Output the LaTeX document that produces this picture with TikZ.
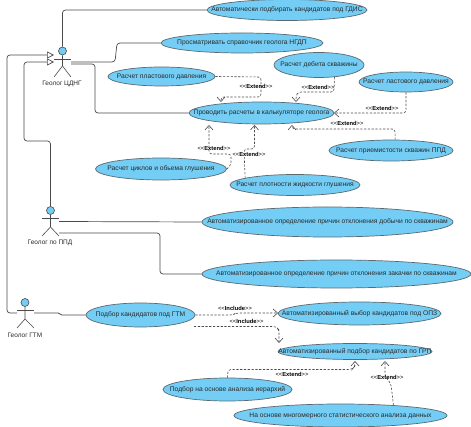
\documentclass[tikz,border=0pt]{standalone}
\usepackage{fontspec}
\setmainfont{Liberation Sans}
\usetikzlibrary{arrows.meta,shapes.geometric}
\definecolor{ucfill}{HTML}{73CDF5}
\definecolor{ucline}{HTML}{5A6A70}
\definecolor{wire}{HTML}{4A4A4A}
\definecolor{txt}{HTML}{2A2A2A}
\newcommand{\stereo}[1]{<{}<\textbf{#1}>{}>}
\newcommand{\ut}[1]{\makebox[0pt][c]{#1}}
\tikzset{
  uc/.style={ellipse,draw=ucline,fill=ucfill,line width=0.7pt,inner sep=0pt,font=\fontsize{6.7}{7}\selectfont,text=txt},
  lbl/.style={font=\fontsize{6.5}{7}\selectfont,text=txt,inner sep=0pt},
  tag/.style={font=\fontsize{5.8}{6}\selectfont,text=black,inner sep=0pt},
  assoc/.style={draw=wire,line width=0.7pt,rounded corners=3pt},
  gen/.style={draw=wire,line width=0.7pt,rounded corners=3pt,-{Triangle[open,length=7pt,width=7pt,fill=white]}},
  dep/.style={draw=wire,line width=0.6pt,rounded corners=3pt,dash pattern=on 2.2pt off 1.6pt,-{Straight Barb[length=4.5pt,width=8pt,line width=0.6pt]}},
  head/.style={circle,draw=wire,fill=ucfill,line width=0.6pt,minimum size=8pt,inner sep=0pt},
  limb/.style={draw=wire,line width=0.6pt},
}
\begin{document}
\begin{tikzpicture}[x=1pt,y=-1pt]
\useasboundingbox (0,0) rectangle (471,427);
\fill[white] (0,0) rectangle (471,427);
% use cases
\node[uc,minimum width=160pt,minimum height=21pt] (u1) at (287,10) {\ut{Автоматически подбирать кандидатов под ГДИС}};
\node[uc,minimum width=162pt,minimum height=20pt] (u2) at (242,43) {\ut{Просматривать справочник геолога НГДП}};
\node[uc,minimum width=107pt,minimum height=19pt] (u3) at (161.5,76.5) {\ut{Расчет пластового давления}};
\node[uc,minimum width=90pt,minimum height=25pt] (u4) at (319,65) {\ut{Расчет дебита скважины}};
\node[uc,minimum width=94pt,minimum height=20pt] (u5) at (406,82) {\ut{Расчет ластового давления}};
\node[uc,minimum width=145pt,minimum height=22pt] (u6) at (261.5,113) {\ut{Проводить расчеты в калькуляторе геолога}};
\node[uc,minimum width=124pt,minimum height=21pt] (u7) at (391,150.5) {\ut{Расчет приемистости скважин ППД}};
\node[uc,minimum width=131pt,minimum height=22pt] (u8) at (161,169) {\ut{Расчет циклов и обьема глушения}};
\node[uc,minimum width=130pt,minimum height=21pt] (u9) at (295,185) {\ut{Расчет плотности жидкости глушения}};
\node[uc,minimum width=251pt,minimum height=30pt] (u10) at (327.5,222) {\ut{Автоматизированное определение причин отклонения добычи по скважинам}};
\node[uc,minimum width=269pt,minimum height=28pt] (u11) at (336.5,274) {\ut{Автоматизированное определение причин отклонения закачки по скважинам}};
\node[uc,minimum width=109pt,minimum height=24pt] (u12) at (140.5,315) {\ut{Подбор кандидатов под ГТМ}};
\node[uc,minimum width=163pt,minimum height=23pt] (u13) at (359.5,313.5) {\ut{Автоматизированный выбор кандидатов под ОПЗ}};
\node[uc,minimum width=154pt,minimum height=16pt] (u14) at (355,351.5) {\ut{Автоматизированный подбор кандидатов по ГРП}};
\node[uc,minimum width=129pt,minimum height=23pt] (u15) at (227.5,389.5) {\ut{Подбор на основе анализа иерархий}};
\node[uc,minimum width=213pt,minimum height=23pt] (u16) at (340.5,415.5) {\ut{На основе многомерного статистического анализа данных}};
% actors
\node[head] (h1) at (62.5,51) {};
\draw[limb] (h1.south) -- (62.5,66) coordinate (b1) -- (54,77);
\draw[limb] (b1) -- (71,77);
\draw[limb] (54,59) -- (71,59);
\node[lbl] (n1) at (62,84) {Геолог ЦДНГ};
\node[head] (h2) at (50.5,210.5) {};
\draw[limb] (h2.south) -- (50.5,227) coordinate (b2) -- (42,236);
\draw[limb] (b2) -- (59,236);
\draw[limb] (42,218.5) -- (59,218.5);
\node[lbl] (n2) at (50,243) {Геолог по ППД};
\node[head] (h3) at (25,302.5) {};
\draw[limb] (h3.south) -- (25,319) coordinate (b3) -- (17,328);
\draw[limb] (b3) -- (34,328);
\draw[limb] (17,310) -- (34,310);
\node[lbl] (n3) at (25,335.5) {Геолог ГТМ};
% anchors on the actors
\coordinate (g1) at (54,55);
\coordinate (g2) at (54,62);
\coordinate (a1r) at (71,62);
\coordinate (a1s) at (71,64);
\coordinate (a2u) at (59,221.5);
\coordinate (a2d) at (59,233);
\coordinate (a3r) at (34,313);
\coordinate (a3l) at (17,313);
% generalisations
\draw[gen] (a3l) -- (7,313) -- (7,55) -- (g1);
\draw[gen] (h2.north) -- (50.5,141) -- (24,141) -- (24,62) -- (g2);
% associations
\draw[assoc] (h1.north) -- (62.5,10) -- (u1.west);
\draw[assoc] (a1r) -- (115,62) -- (117,43) -- (u2.west);
\draw[assoc] (a1s) -- (95,64) -- (95,113) -- (u6.west);
\draw[assoc] (a2u) -- (u10.west);
\draw[assoc] (a2d) -- (160,233) -- (160,274) -- (u11.west);
\draw[draw=wire,line width=0.7pt] (a3r) -- (58,313) -- (62,315) -- (u12.west);
% dependency end points
\coordinate (t1) at (221,102);
\coordinate (t2) at (296,102);
\coordinate (t3) at (334,113);
\coordinate (t4) at (292,125);
\coordinate (t5) at (254.5,125);
\coordinate (t6) at (209,125);
\coordinate (t7) at (278,313);
\coordinate (t8) at (279,343);
\coordinate (t9) at (355,361);
\coordinate (t10) at (385,361);
\coordinate (s8) at (194,326.5);
% extend / include
\draw[dep] (u3.east) -- (261,77) -- (261,97) -- (221,97) -- (t1);
\draw[dep] (u4.-38) -- (334,92) -- (298,92) -- (296,96) -- (t2);
\draw[dep] (u5.south) -- (406,113) -- (t3);
\draw[dep] (u7.69) -- (395,129) -- (292,129) -- (t4);
\draw[dep] (u9.172) -- (244,149) -- (254.5,149) -- (t5);
\draw[dep] (u8.east) -- (231,165) -- (231,154) -- (209,154) -- (t6);
\draw[dep] (u12.east) -- (233,315) -- (236,313) -- (t7);
\draw[dep] (s8) -- (276,326.5) -- (279,330) -- (t8);
\draw[dep] (u15.north) -- (228,369.5) -- (352,369.5) -- (355,366) -- (t9);
\draw[dep] (u16.11) -- (391,384) -- (385,376) -- (t10);
% stereotype labels
\node[tag] (l1) at (256,86) {\stereo{Extend}};
\node[tag] (l2) at (318,87.5) {\stereo{Extend}};
\node[tag] (l3) at (382,108) {\stereo{Extend}};
\node[tag] (l4) at (347,123.5) {\stereo{Extend}};
\node[tag] (l5) at (214,148.5) {\stereo{Extend}};
\node[tag] (l6) at (249,154.5) {\stereo{Extend}};
\node[tag] (l7) at (235,308.5) {\stereo{Include}};
\node[tag] (l8) at (246.5,321.5) {\stereo{Include}};
\node[tag] (l9) at (292,374.5) {\stereo{Extend}};
\node[tag] (l10) at (387,377.5) {\stereo{Extend}};
\end{tikzpicture}
\end{document}
